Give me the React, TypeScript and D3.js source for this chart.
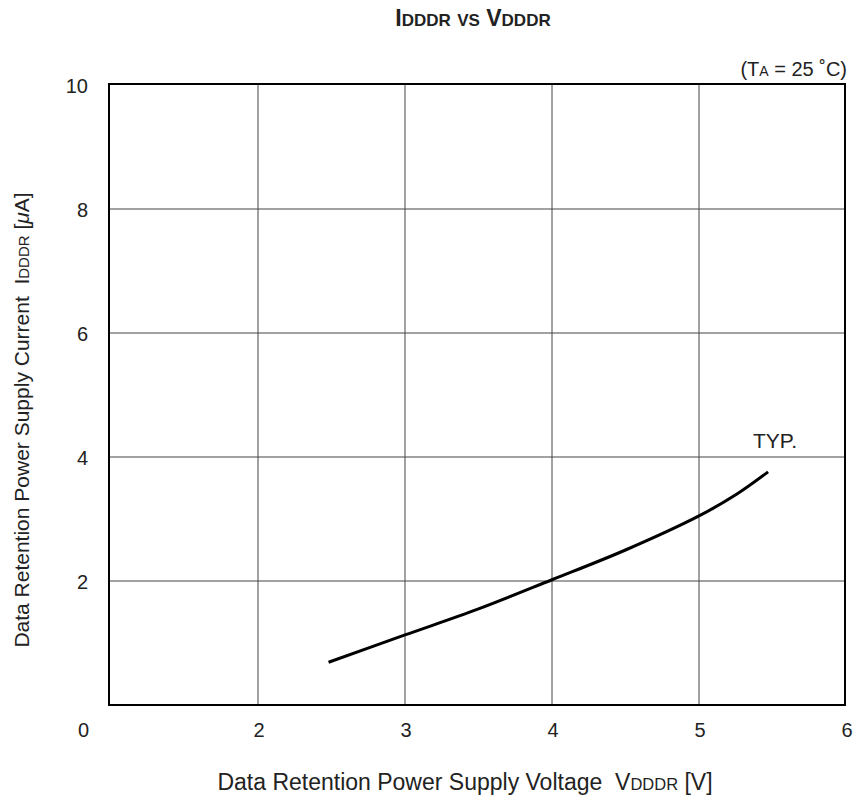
import React from "react";
import * as d3 from "d3";

const voltage = [2.48, 3.0, 3.5, 4.0, 4.5, 5.0, 5.25, 5.47];
const current = [0.69, 1.13, 1.55, 2.02, 2.5, 3.05, 3.39, 3.76];
const xTicks = [2, 3, 4, 5, 6];
const yTicks = [2, 4, 6, 8, 10];
const originLabel = "0";

const W = 859;
const H = 803;
const FONT = "'Liberation Sans', Arial, Helvetica, sans-serif";

export default function App() {
  const x = d3.scaleLinear().domain([1, 6]).range([111, 846]);
  const y = d3.scaleLinear().domain([0, 10]).range([705, 85]);
  const pts = voltage.map((v, i) => [v, current[i]] as [number, number]);
  const line = d3
    .line<[number, number]>()
    .x((d) => x(d[0]))
    .y((d) => y(d[1]))
    .curve(d3.curveCatmullRom.alpha(0.5));

  const left = 109;
  const right = 845;
  const top = y(10) - 1;
  const bottom = y(0);

  return (
    <svg
      width={W}
      height={H}
      style={{ position: "absolute", left: 0, top: 0, background: "#fff" }}
      fontFamily={FONT}
    >
      <rect x={0} y={0} width={W} height={H} fill="#fff" />
      {/* title */}
      <text x={473} y={26} textAnchor="middle" fontWeight="bold" fontSize={23} fill="#222">
        I<tspan fontSize={17}>DDDR</tspan> <tspan fontSize={17}>VS</tspan> V
        <tspan fontSize={17}>DDDR</tspan>
      </text>
      {/* condition */}
      <text x={847} y={76} textAnchor="end" fontSize={20} fill="#222">
        (T<tspan fontSize={14}>A</tspan> = 25 ˚C)
      </text>
      {/* grid */}
      {xTicks.filter((t) => t < 6).map((t) => (
        <line key={"gx" + t} x1={x(t)} x2={x(t)} y1={top} y2={bottom} stroke="#444" strokeWidth={1} />
      ))}
      {yTicks.filter((t) => t < 10).map((t) => (
        <line key={"gy" + t} x1={left} x2={right} y1={y(t)} y2={y(t)} stroke="#444" strokeWidth={1} />
      ))}
      {/* frame */}
      <rect x={left} y={top} width={right - left} height={bottom - top} fill="none" stroke="#000" strokeWidth={2} />
      {/* curve */}
      <path d={line(pts) || ""} fill="none" stroke="#000" strokeWidth={3} />
      <text x={775} y={448} textAnchor="middle" fontSize={21} fill="#222">
        TYP.
      </text>
      {/* y tick labels */}
      {yTicks.map((t) => (
        <text key={"yt" + t} x={88} y={y(t) + 1} dy="0.35em" textAnchor="end" fontSize={20} fill="#222">
          {t}
        </text>
      ))}
      {/* x tick labels */}
      <text x={89} y={730} dy="0.35em" textAnchor="end" fontSize={20} fill="#222">
        {originLabel}
      </text>
      {xTicks.map((t) => (
        <text key={"xt" + t} x={x(t) + 1} y={730} dy="0.35em" textAnchor="middle" fontSize={20} fill="#222">
          {t}
        </text>
      ))}
      {/* x axis title */}
      <text x={465} y={790} textAnchor="middle" fontSize={23} fill="#222" style={{ whiteSpace: "pre" }}>
        Data Retention Power Supply Voltage  V<tspan fontSize={16.5}>DDDR</tspan> [V]
      </text>
      {/* y axis title */}
      <text
        transform={`translate(29, 420) rotate(-90)`}
        textAnchor="middle"
        fontSize={21}
        fill="#222"
        style={{ whiteSpace: "pre" }}
      >
        Data Retention Power Supply Current  I<tspan fontSize={15}>DDDR</tspan> [<tspan fontStyle="italic">μ</tspan>A]
      </text>
    </svg>
  );
}
